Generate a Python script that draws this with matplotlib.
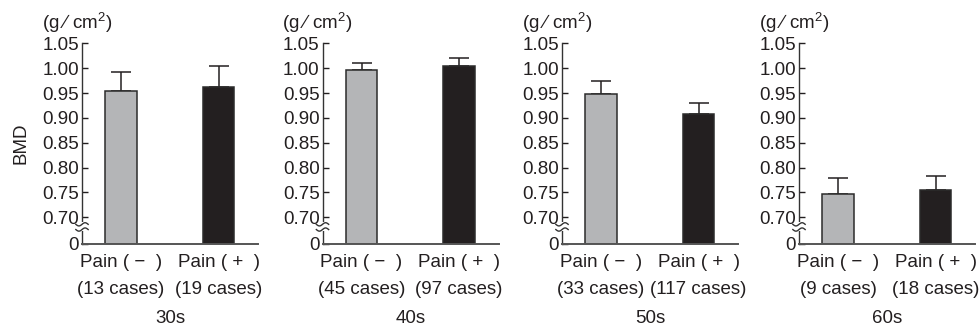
import numpy as np
import matplotlib
import matplotlib.pyplot as plt

matplotlib.use("Agg")

plt.rcParams["font.family"] = ["Liberation Sans", "DejaVu Sans"]
plt.rcParams["mathtext.fontset"] = "custom"
plt.rcParams["mathtext.rm"] = "Liberation Sans"

# Data
age_groups = ["30s", "40s", "50s", "60s"]
cases_neg = [13, 45, 33, 9]
cases_pos = [19, 97, 117, 18]
bmd_neg = [0.955, 0.997, 0.948, 0.746]
bmd_pos = [0.962, 1.004, 0.908, 0.754]
err_neg = [0.037, 0.014, 0.026, 0.034]
err_pos = [0.042, 0.016, 0.021, 0.030]
ytick_values = [0.70, 0.75, 0.80, 0.85, 0.90, 0.95, 1.00, 1.05]

INK = "#231f20"
GRAY = "#b4b5b7"
FS = 13.5
Y_BASE = 0.6463  # where the broken axis shows "0"
Y_TOP = 1.05

fig = plt.figure(figsize=(9.8, 3.33), dpi=100)

lefts_px = [82, 322.5, 562, 799]
width_px = 176
bottom = 1 - 244 / 333
height = (244 - 43.3) / 333

for i, age in enumerate(age_groups):
    ax = fig.add_axes([lefts_px[i] / 980, bottom, width_px / 980, height])

    ax.bar([0, 1], [bmd_neg[i] - Y_BASE, bmd_pos[i] - Y_BASE], bottom=Y_BASE,
           width=0.323, color=[GRAY, INK], edgecolor="#2b2b2b", linewidth=1.1,
           zorder=2)
    ax.errorbar([0, 1], [bmd_neg[i], bmd_pos[i]],
                yerr=[[0, 0], [err_neg[i], err_pos[i]]],
                fmt="none", ecolor=INK, elinewidth=1.1, capsize=7.5,
                capthick=1.1, zorder=1)

    ax.set_xlim(-0.40, -0.40 + width_px / 97.5)
    ax.set_ylim(Y_BASE, Y_TOP)

    ax.set_yticks([Y_BASE] + ytick_values)
    ax.set_yticklabels(["0"] + [f"{v:.2f}" for v in ytick_values])
    ax.set_xticks([])
    ax.tick_params(axis="y", direction="in", length=4, width=1.0,
                   labelsize=FS, pad=2, colors=INK)

    for side in ["top", "right"]:
        ax.spines[side].set_visible(False)
    ax.spines["left"].set_color("#333333")
    ax.spines["left"].set_linewidth(1.0)
    ax.spines["bottom"].set_color("#555555")
    ax.spines["bottom"].set_linewidth(1.4)

    # axis break mark between 0 and 0.70
    ax.add_patch(plt.Rectangle((-0.02, 0.063), 0.04, 0.045, transform=ax.transAxes,
                               facecolor="white", edgecolor="none",
                               clip_on=False, zorder=5))
    t = np.linspace(-1, 1, 30)
    for yc in (0.072, 0.098):
        ax.plot(t * 0.035, yc + 0.008 * np.sin(t * np.pi), transform=ax.transAxes,
                color="#333333", linewidth=1.0, clip_on=False, zorder=6)

    # category labels
    xform = ax.get_xaxis_transform()
    for x, sign, n in [(0, "\u2212", cases_neg[i]), (1, "+", cases_pos[i])]:
        ax.text(x, -0.092, f"Pain ( {sign}  )", transform=xform, ha="center",
                va="center", fontsize=FS, color=INK)
        ax.text(x, -0.227, f"({n} cases)", transform=xform, ha="center",
                va="center", fontsize=FS, color=INK)
    ax.text(0.5, -0.371, age, transform=ax.transAxes, ha="center", va="center",
            fontsize=FS, color=INK)

    ax.text(-0.028, 1.105, "(g \u2215 cm$^2$)", transform=ax.transAxes,
            ha="center", va="center", fontsize=FS, color=INK)

    if i == 0:
        ax.text(-0.347, 0.503, "BMD", transform=ax.transAxes, rotation=90,
                ha="center", va="center", fontsize=FS, color=INK)

fig.savefig("out.png", dpi=100)
plt.close(fig)
